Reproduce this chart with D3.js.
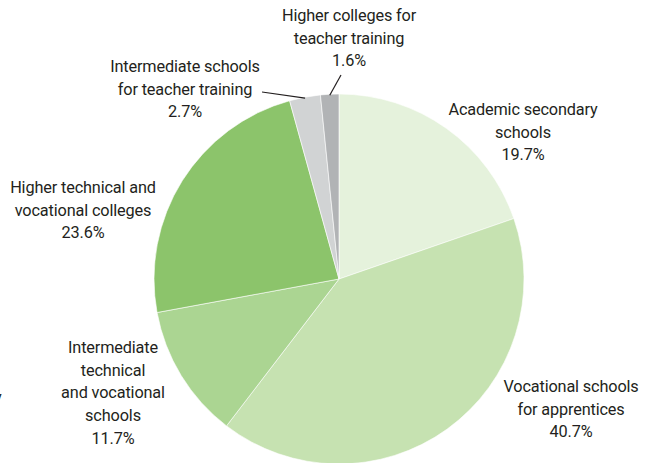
<!DOCTYPE html>
<html>
<head>
<meta charset="utf-8">
<script src="https://cdn.jsdelivr.net/npm/d3@7"></script>
<style>
  body { margin: 0; background: #fff; }
  svg text { font-family: Roboto, "Liberation Sans", sans-serif; font-size: 16.3px; letter-spacing: -0.15px; fill: #231f20; }
</style>
</head>
<body>
<svg id="pie" width="648" height="463"></svg>
<script>
// slices, clockwise from 12 o'clock
var categories = [
  "Academic secondary schools",
  "Vocational schools for apprentices",
  "Intermediate technical and vocational schools",
  "Higher technical and vocational colleges",
  "Intermediate schools for teacher training",
  "Higher colleges for teacher training"
];
var shares = [19.7, 40.7, 11.7, 23.6, 2.7, 1.6];
var sliceColors = ["#e5f2dc", "#c6e2b1", "#abd592", "#8cc46b", "#d1d3d4", "#b1b3b5"];

// label text broken into lines as in the original
var labelLines = [
  ["Academic secondary", "schools"],
  ["Vocational schools", "for apprentices"],
  ["Intermediate", "technical", "and vocational", "schools"],
  ["Higher technical and", "vocational colleges"],
  ["Intermediate schools", "for teacher training"],
  ["Higher colleges for", "teacher training"]
];

var svg = d3.select("#pie");
var cx = 339, cy = 279, radius = 185;

var g = svg.append("g").attr("transform", "translate(" + cx + "," + cy + ")");

var pie = d3.pie().sort(null).value(function(d){ return d; });
var arcs = pie(shares);
var arc = d3.arc().innerRadius(0).outerRadius(radius);

g.selectAll("path.slice")
  .data(arcs)
  .enter().append("path")
  .attr("class", "slice")
  .attr("d", arc)
  .attr("fill", function(d, i){ return sliceColors[i]; })
  .attr("stroke", "#fff")
  .attr("stroke-width", 0.6);

// label anchor positions (centre x, first baseline y) relative to pie centre
var labelPos = [
  [184, -164],
  [232, 113],
  [-226, 74],
  [-256, -86],
  [-154, -207],
  [10, -258]
];
var lineH = 22.7;

var labels = g.selectAll("text.lbl")
  .data(arcs)
  .enter().append("text")
  .attr("class", "lbl")
  .attr("text-anchor", "middle");

labels.each(function(d, i){
  var t = d3.select(this);
  var lines = labelLines[i].concat([d3.format(".1f")(shares[i]) + "%"]);
  lines.forEach(function(s, k){
    t.append("tspan")
      .attr("x", labelPos[i][0])
      .attr("y", labelPos[i][1] + k * lineH)
      .text(s);
  });
});

// leader lines for the two small slices
var leaders = [
  { i: 4, end: [-77, -187] },
  { i: 5, end: [2, -204] }
];
leaders.forEach(function(l){
  var a = arcs[l.i];
  var ang = (a.startAngle + a.endAngle) / 2;
  var p = [Math.sin(ang) * (radius - 1), -Math.cos(ang) * (radius - 1)];
  g.append("line")
    .attr("x1", p[0]).attr("y1", p[1])
    .attr("x2", l.end[0]).attr("y2", l.end[1])
    .attr("stroke", "#231f20")
    .attr("stroke-width", 1.2);
});

// stray glyph cut off at the left edge of the original image
svg.append("text").attr("x", -6).attr("y", 403).text("y");
</script>
</body>
</html>
